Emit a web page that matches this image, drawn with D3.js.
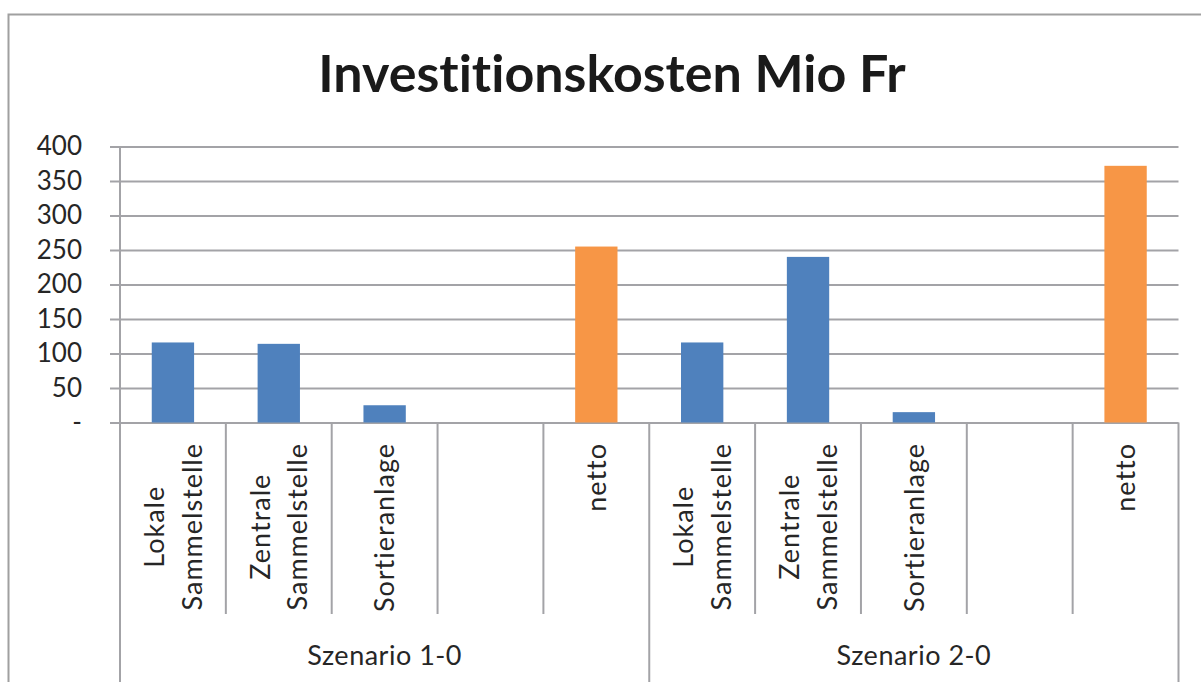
<!DOCTYPE html>
<html>
<head>
<meta charset="utf-8">
<script src="https://cdn.jsdelivr.net/npm/d3@7"></script>
<style>
  body { margin: 0; background: #fff; }
  text { font-family: Lato, "Open Sans", sans-serif; fill: #262626; font-variant-ligatures: none; }
</style>
</head>
<body>
<div id="chart"></div>
<script>
// data
var groups = ["Szenario 1-0", "Szenario 2-0"];
var categories = ["Lokale\nSammelstelle", "Zentrale\nSammelstelle", "Sortieranlage", "", "netto"];
var values1 = [116, 114, 25, null, 255];
var values2 = [116, 240, 15, null, 372];
var barColors = ["#4F81BD", "#4F81BD", "#4F81BD", "#4F81BD", "#F79646"];
var yTicks = [0, 50, 100, 150, 200, 250, 300, 350, 400];

var W = 1201, H = 682;
var plotLeft = 120, plotRight = 1178.5, plotTop = 146.5, plotBottom = 422.5;
var gridCol = "#a3a3a7";

var rows = [];
groups.forEach(function(g, gi) {
  var vals = gi == 0 ? values1 : values2;
  categories.forEach(function(c, ci) {
    rows.push({key: gi + "-" + ci, group: g, label: c, value: vals[ci], color: barColors[ci]});
  });
});

var svg = d3.select("#chart").append("svg")
  .attr("width", W).attr("height", H);

// outer frame
svg.append("rect")
  .attr("x", 8.5).attr("y", 14.5)
  .attr("width", 1220).attr("height", 720)
  .attr("fill", "none").attr("stroke", "#a0a0a0").attr("stroke-width", 2);

svg.append("text")
  .attr("x", 612).attr("y", 92)
  .attr("text-anchor", "middle")
  .style("font-size", "52px").style("font-weight", "bold").style("fill", "#1a1a1a")
  .text("Investitionskosten Mio Fr");

var x = d3.scaleBand()
  .domain(rows.map(function(d) { return d.key; }))
  .range([plotLeft, plotRight])
  .paddingInner(0.6).paddingOuter(0.3);
var step = x.step();

var y = d3.scaleLinear().domain([0, 400]).range([plotBottom, plotTop]);

// y axis + gridlines
var yAxis = d3.axisLeft(y)
  .tickValues(yTicks)
  .tickSize(-(plotRight - 110))
  .tickPadding(28)
  .tickFormat(function(d) { return d == 0 ? "-" : d; });

var ga = svg.append("g")
  .attr("transform", "translate(110,0)")
  .call(yAxis);
ga.select(".domain").remove();
ga.selectAll(".tick line").attr("stroke", gridCol).attr("stroke-width", 2);
ga.selectAll(".tick text")
  .style("font-size", "26px").style("fill", "#262626")
  .attr("font-family", null);

// vertical axis line
svg.append("line")
  .attr("x1", plotLeft).attr("x2", plotLeft)
  .attr("y1", plotTop).attr("y2", plotBottom)
  .attr("stroke", gridCol).attr("stroke-width", 2);

// bars
svg.append("g").selectAll("rect")
  .data(rows.filter(function(d) { return d.value != null; }))
  .enter().append("rect")
  .attr("x", function(d) { return x(d.key); })
  .attr("width", x.bandwidth())
  .attr("y", function(d) { return y(d.value); })
  .attr("height", function(d) { return y(0) - y(d.value); })
  .attr("fill", function(d) { return d.color; });

// separators below the axis
var seps = d3.range(rows.length + 1);
svg.append("g").selectAll("line")
  .data(seps)
  .enter().append("line")
  .attr("x1", function(i) { return plotLeft + i * step; })
  .attr("x2", function(i) { return plotLeft + i * step; })
  .attr("y1", plotBottom)
  .attr("y2", function(i) { return i % categories.length == 0 ? 700 : 614; })
  .attr("stroke", gridCol).attr("stroke-width", 2);

// category labels, rotated
var fs = 27, lineH = 38, labelTop = 443;
rows.forEach(function(d) {
  if (!d.label) return;
  var lines = d.label.split("\n");
  var cx = x(d.key) + x.bandwidth() / 2;
  var g = svg.append("g")
    .attr("transform", "translate(" + cx + "," + labelTop + ") rotate(-90)");
  var texts = lines.map(function(l, i) {
    return g.append("text")
      .attr("y", (i - (lines.length - 1) / 2) * lineH + fs * 0.36)
      .attr("text-anchor", "middle")
      .style("font-size", fs + "px")
      .style("letter-spacing", "1px")
      .text(l);
  });
  var maxLen = d3.max(texts, function(t) { return t.node().getComputedTextLength(); });
  texts.forEach(function(t) { t.attr("x", -maxLen / 2); });
});

// group labels
svg.append("g").selectAll("text")
  .data(groups)
  .enter().append("text")
  .attr("x", function(g, gi) { return plotLeft + (gi + 0.5) * categories.length * step; })
  .attr("y", 665)
  .attr("text-anchor", "middle")
  .style("font-size", "27px")
  .style("letter-spacing", "0.5px")
  .text(function(g) { return g; });
</script>
</body>
</html>
